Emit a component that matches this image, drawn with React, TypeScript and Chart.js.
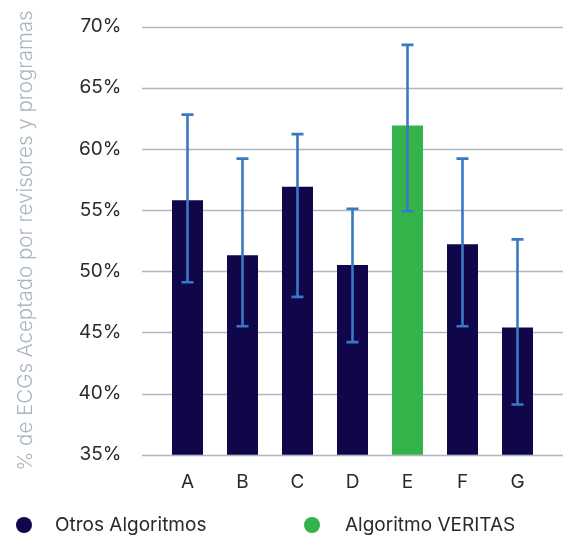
import React, { useEffect, useRef } from 'react';
import { Chart, registerables } from 'chart.js';

Chart.register(...registerables);

const categories = ['A', 'B', 'C', 'D', 'E', 'F', 'G'];
const acceptedPct = [55.8, 51.3, 56.9, 50.5, 61.9, 52.2, 45.4];
const errorLow = [49.1, 45.5, 47.9, 44.2, 54.9, 45.5, 39.1];
const errorHigh = [62.8, 59.2, 61.2, 55.1, 68.5, 59.2, 52.6];
const highlightCategory = 'E';
const seriesNames = ['Otros Algoritmos', 'Algoritmo VERITAS'];
const yAxisTitle = '% de ECGs Aceptado por revisores y programas';
const yMin = 35;
const yMax = 70;
const yStep = 5;

const NAVY = '#10064a';
const GREEN = '#33b34a';
const ERR = '#3b78c4';
const GRID = '#abb9c3';
const TEXT = '#2a2a2a';
const TITLE = '#a9b6c0';
const FONT = 'Inter, "Noto Sans", sans-serif';

const gridPlugin = {
  id: 'extendedGrid',
  beforeDatasetsDraw(chart: any) {
    const { ctx, chartArea, scales } = chart;
    const y = scales.y;
    ctx.save();
    ctx.strokeStyle = GRID;
    ctx.lineWidth = 1.6;
    y.ticks.forEach((t: any) => {
      const py = Math.round(y.getPixelForValue(t.value)) + 0.5;
      ctx.beginPath();
      ctx.moveTo(chartArea.left - 18, py);
      ctx.lineTo(chartArea.right + 18, py);
      ctx.stroke();
    });
    ctx.restore();
  },
};

const errorBarPlugin = {
  id: 'errorBars',
  afterDatasetsDraw(chart: any) {
    const { ctx, scales } = chart;
    const y = scales.y;
    const meta = chart.getDatasetMeta(0);
    ctx.save();
    ctx.strokeStyle = ERR;
    ctx.lineWidth = 2.6;
    meta.data.forEach((bar: any, i: number) => {
      const x = bar.x;
      const lo = y.getPixelForValue(errorLow[i]);
      const hi = y.getPixelForValue(errorHigh[i]);
      ctx.beginPath();
      ctx.moveTo(x, lo);
      ctx.lineTo(x, hi);
      ctx.moveTo(x - 6, hi);
      ctx.lineTo(x + 6, hi);
      ctx.moveTo(x - 6, lo);
      ctx.lineTo(x + 6, lo);
      ctx.stroke();
    });
    ctx.restore();
  },
};

export default function App() {
  const canvasRef = useRef<HTMLCanvasElement | null>(null);

  useEffect(() => {
    if (!canvasRef.current) return;
    const chart = new Chart(canvasRef.current, {
      type: 'bar',
      data: {
        labels: categories,
        datasets: [
          {
            label: seriesNames[0],
            data: acceptedPct,
            backgroundColor: categories.map((c) => (c === highlightCategory ? GREEN : NAVY)),
            borderWidth: 0,
            categoryPercentage: 1,
            barPercentage: 31 / 55,
          },
        ],
      },
      options: {
        animation: false,
        responsive: false,
        devicePixelRatio: 1,
        layout: { padding: { top: 26.5, right: 29, left: 0, bottom: 0 } },
        plugins: {
          legend: { display: false },
          tooltip: { enabled: false },
        },
        scales: {
          x: {
            grid: { display: false, drawTicks: false },
            border: { display: false },
            ticks: { color: TEXT, font: { family: FONT, size: 19 }, padding: 16 },
            afterFit: (s: any) => {
              s.height = 83.3;
            },
          },
          y: {
            min: yMin,
            max: yMax,
            grid: {
              display: true,
              drawOnChartArea: false,
              drawTicks: true,
              tickLength: 38.5,
              color: 'rgba(0,0,0,0)',
            },
            border: { display: false },
            ticks: {
              stepSize: yStep,
              color: TEXT,
              font: { family: FONT, size: 19 },
              padding: 0,
              callback: (v: any) => v + '%',
            },
            title: {
              display: true,
              text: yAxisTitle,
              color: TITLE,
              font: { family: FONT, size: 20.5, weight: '300' },
              padding: { top: 14, bottom: 0 },
            },
            afterFit: (s: any) => {
              s.width = 160;
            },
          },
        },
      },
      plugins: [gridPlugin, errorBarPlugin],
    });
    return () => chart.destroy();
  }, []);

  const legendItems = [
    { name: seriesNames[0], color: NAVY, cx: 24, tx: 55 },
    { name: seriesNames[1], color: GREEN, cx: 311.5, tx: 345 },
  ];

  return (
    <div style={{ position: 'absolute', left: 0, top: 0, width: 574, height: 538, background: '#fff' }}>
      <canvas ref={canvasRef} width={574} height={538} style={{ display: 'block' }} />
      {legendItems.map((it) => (
        <React.Fragment key={it.name}>
          <div
            style={{
              position: 'absolute',
              left: it.cx - 8,
              top: 525 - 8,
              width: 16,
              height: 16,
              borderRadius: '50%',
              background: it.color,
            }}
          />
          <div
            style={{
              position: 'absolute',
              left: it.tx,
              top: 525 - 12,
              height: 24,
              lineHeight: '24px',
              fontFamily: FONT,
              fontSize: 19,
              color: TEXT,
              whiteSpace: 'nowrap',
            }}
          >
            {it.name}
          </div>
        </React.Fragment>
      ))}
    </div>
  );
}
